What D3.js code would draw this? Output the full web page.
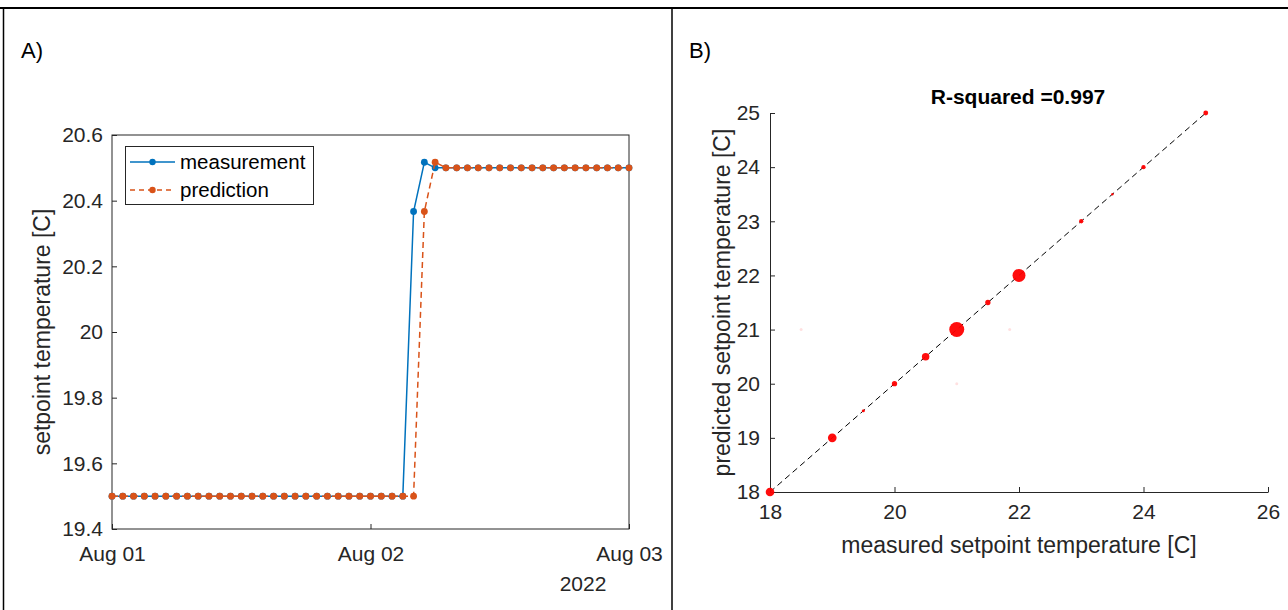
<!DOCTYPE html>
<html>
<head>
<meta charset="utf-8">
<script src="https://cdn.jsdelivr.net/npm/d3@7"></script>
<style>
  body { margin: 0; background: #fff; }
  svg { font-family: "Liberation Sans", Arial, sans-serif; }
  .tick text { fill: #262626; }
</style>
</head>
<body>
<svg id="chart" width="1288" height="610"></svg>
<script>
// ---- panel A data (hourly, Aug 01 00:00 .. Aug 03 00:00) ----
const startTime = '2022-08-01T00:00:00Z';
const measurement = [
  19.5, 19.5, 19.5, 19.5, 19.5, 19.5, 19.5, 19.5, 19.5, 19.5,
  19.5, 19.5, 19.5, 19.5, 19.5, 19.5, 19.5, 19.5, 19.5, 19.5,
  19.5, 19.5, 19.5, 19.5, 19.5, 19.5, 19.5, 19.5, 20.367, 20.517,
  20.5, 20.5, 20.5, 20.5, 20.5, 20.5, 20.5, 20.5, 20.5, 20.5,
  20.5, 20.5, 20.5, 20.5, 20.5, 20.5, 20.5, 20.5, 20.5
];
const prediction = [
  19.5, 19.5, 19.5, 19.5, 19.5, 19.5, 19.5, 19.5, 19.5, 19.5,
  19.5, 19.5, 19.5, 19.5, 19.5, 19.5, 19.5, 19.5, 19.5, 19.5,
  19.5, 19.5, 19.5, 19.5, 19.5, 19.5, 19.5, 19.5, 19.5, 20.367,
  20.517, 20.5, 20.5, 20.5, 20.5, 20.5, 20.5, 20.5, 20.5, 20.5,
  20.5, 20.5, 20.5, 20.5, 20.5, 20.5, 20.5, 20.5, 20.5
];
const yTicksA = [19.4, 19.6, 19.8, 20, 20.2, 20.4, 20.6];
const xTickDatesA = ['2022-08-01T00:00:00Z', '2022-08-02T00:00:00Z', '2022-08-03T00:00:00Z'];
const seriesNames = ['measurement', 'prediction'];

// ---- panel B data ----
const measured  = [18, 19, 19.5, 20, 20.5, 21, 21.5, 22, 23, 23.5, 24, 25];
const predicted = [18, 19, 19.5, 20, 20.5, 21, 21.5, 22, 23, 23.5, 24, 25];
const counts    = [16, 16, 2, 6, 12, 48, 6, 36, 4, 1, 4, 5];
const faintX = [21, 21.85, 18.5];
const faintY = [20, 21, 21];
const xTicksB = [18, 20, 22, 24, 26];
const yTicksB = [18, 19, 20, 21, 22, 23, 24, 25];
const rSquared = 0.997;

const svg = d3.select('#chart');
const blue = '#0072BD', orange = '#D95319';
const tickFont = 21, labelFont = 23;

// frame lines
svg.append('line').attr('x1', 0).attr('x2', 1288).attr('y1', 8).attr('y2', 8)
  .attr('stroke', '#000').attr('stroke-width', 2);
svg.append('line').attr('x1', 3.5).attr('x2', 3.5).attr('y1', 8).attr('y2', 610)
  .attr('stroke', '#000').attr('stroke-width', 1.5);
svg.append('line').attr('x1', 672).attr('x2', 672).attr('y1', 8).attr('y2', 610)
  .attr('stroke', '#000').attr('stroke-width', 1.5);

svg.append('text').attr('x', 21).attr('y', 58).attr('font-size', 22).text('A)');
svg.append('text').attr('x', 689).attr('y', 58).attr('font-size', 22).text('B)');

// ================= panel A =================
const A = {left: 112, right: 629, top: 135, bottom: 529};
const parse = d => new Date(d);
const t0 = parse(startTime).getTime();
const timeOf = i => new Date(t0 + i * 3600 * 1000);

const xA = d3.scaleUtc()
  .domain([parse(xTickDatesA[0]), parse(xTickDatesA[2])])
  .range([A.left, A.right]);
const yA = d3.scaleLinear().domain([19.4, 20.6]).range([A.bottom, A.top]);

const gA = svg.append('g');

gA.append('rect')
  .attr('x', A.left).attr('y', A.top)
  .attr('width', A.right - A.left).attr('height', A.bottom - A.top)
  .attr('fill', 'none').attr('stroke', '#262626').attr('stroke-width', 1);

const fmtA = d3.utcFormat('%b %d');
gA.append('g')
  .attr('transform', `translate(0,${A.bottom})`)
  .call(d3.axisBottom(xA).tickValues(xTickDatesA.map(parse)).tickFormat(fmtA)
    .tickSizeInner(-5).tickSizeOuter(0).tickPadding(17))
  .call(g => g.select('.domain').remove())
  .call(g => g.selectAll('.tick line').attr('stroke', '#262626'))
  .call(g => g.selectAll('.tick text').attr('font-size', tickFont));

gA.append('g')
  .attr('transform', `translate(${A.left},0)`)
  .call(d3.axisLeft(yA).tickValues(yTicksA).tickFormat(d3.format('~g'))
    .tickSizeInner(-5).tickSizeOuter(0).tickPadding(9))
  .call(g => g.select('.domain').remove())
  .call(g => g.selectAll('.tick line').attr('stroke', '#262626'))
  .call(g => g.selectAll('.tick text').attr('font-size', tickFont));

gA.append('text').attr('x', 583).attr('y', 591).attr('text-anchor', 'middle')
  .attr('font-size', tickFont).attr('fill', '#262626').text('2022');

gA.append('text')
  .attr('transform', `translate(50,${(A.top + A.bottom) / 2}) rotate(-90)`)
  .attr('text-anchor', 'middle').attr('font-size', labelFont).attr('fill', '#262626')
  .text('setpoint temperature [C]');

const lineA = d3.line().x((d, i) => xA(timeOf(i))).y(d => yA(d));

const drawSeries = (data, color, dash) => {
  gA.append('path').datum(data)
    .attr('fill', 'none').attr('stroke', color).attr('stroke-width', 1.5)
    .attr('stroke-dasharray', dash).attr('d', lineA);
  gA.append('g').selectAll('circle').data(data).join('circle')
    .attr('cx', (d, i) => xA(timeOf(i))).attr('cy', d => yA(d))
    .attr('r', 3.4).attr('fill', color);
};
drawSeries(measurement, blue, null);
drawSeries(prediction, orange, '6,4');

// legend
const leg = gA.append('g');
leg.append('rect').attr('x', 125.5).attr('y', 146.5).attr('width', 188).attr('height', 58)
  .attr('fill', '#fff').attr('stroke', '#262626').attr('stroke-width', 1);
[[blue, null], [orange, '5,4']].forEach(([c, dash], i) => {
  const y = 162 + i * 28;
  leg.append('line').attr('x1', 130).attr('x2', 175).attr('y1', y).attr('y2', y)
    .attr('stroke', c).attr('stroke-width', 1.5).attr('stroke-dasharray', dash);
  leg.append('circle').attr('cx', 152.5).attr('cy', y).attr('r', 3.2).attr('fill', c);
  leg.append('text').attr('x', 180).attr('y', y + 7).attr('font-size', 20.5)
    .attr('fill', '#000').text(seriesNames[i]);
});

// ================= panel B =================
const B = {left: 770, right: 1268, top: 113, bottom: 492};
const xB = d3.scaleLinear().domain([18, 26]).range([B.left, B.right]);
const yB = d3.scaleLinear().domain([18, 25]).range([B.bottom, B.top]);
const rB = d3.scaleSqrt().domain([0, 48]).range([0, 7.5]);

const gB = svg.append('g');

gB.append('g')
  .attr('transform', `translate(0,${B.bottom})`)
  .call(d3.axisBottom(xB).tickValues(xTicksB).tickFormat(d3.format('d'))
    .tickSizeInner(-5).tickSizeOuter(0).tickPadding(12))
  .call(g => g.select('.domain').attr('stroke', '#262626'))
  .call(g => g.selectAll('.tick line').attr('stroke', '#262626'))
  .call(g => g.selectAll('.tick text').attr('font-size', tickFont));

gB.append('g')
  .attr('transform', `translate(${B.left},0)`)
  .call(d3.axisLeft(yB).tickValues(yTicksB).tickFormat(d3.format('d'))
    .tickSizeInner(-5).tickSizeOuter(0).tickPadding(10))
  .call(g => g.select('.domain').attr('stroke', '#262626'))
  .call(g => g.selectAll('.tick line').attr('stroke', '#262626'))
  .call(g => g.selectAll('.tick text').attr('font-size', tickFont));

gB.append('text').attr('x', (B.left + B.right) / 2).attr('y', 553).attr('text-anchor', 'middle')
  .attr('font-size', labelFont).attr('fill', '#262626').text('measured setpoint temperature [C]');
gB.append('text')
  .attr('transform', `translate(730,${(B.top + B.bottom) / 2}) rotate(-90)`)
  .attr('text-anchor', 'middle').attr('font-size', labelFont).attr('fill', '#262626')
  .text('predicted setpoint temperature [C]');
gB.append('text').attr('x', 1018).attr('y', 104).attr('text-anchor', 'middle')
  .attr('font-size', 21).attr('font-weight', 'bold').attr('fill', '#000')
  .text('R-squared =' + rSquared);

// faint points
gB.append('g').selectAll('circle').data(faintX).join('circle')
  .attr('cx', d => xB(d)).attr('cy', (d, i) => yB(faintY[i]))
  .attr('r', 1.5).attr('fill', 'red').attr('opacity', 0.12);

// identity line
gB.append('line')
  .attr('x1', xB(d3.min(measured))).attr('y1', yB(d3.min(measured)))
  .attr('x2', xB(d3.max(measured))).attr('y2', yB(d3.max(measured)))
  .attr('stroke', '#000').attr('stroke-width', 1).attr('stroke-dasharray', '6,4');

gB.append('g').selectAll('circle').data(measured).join('circle')
  .attr('cx', d => xB(d)).attr('cy', (d, i) => yB(predicted[i]))
  .attr('r', (d, i) => Math.max(1.2, rB(counts[i])))
  .attr('fill', 'red').attr('opacity', 0.95);
</script>
</body>
</html>
